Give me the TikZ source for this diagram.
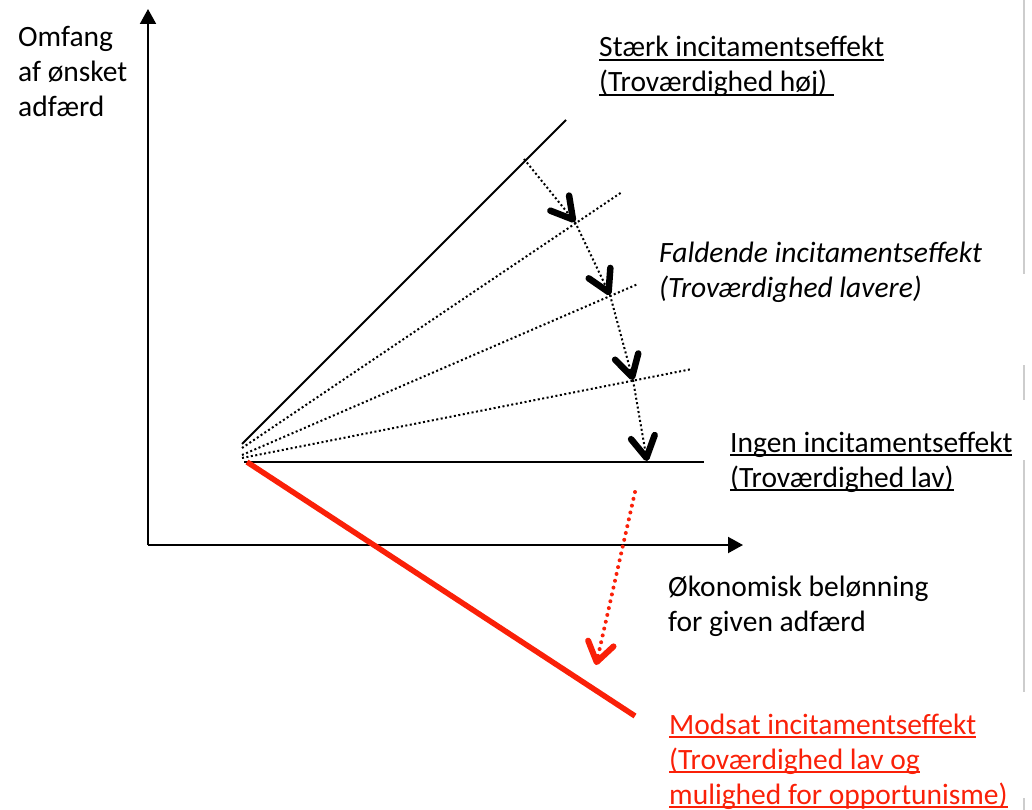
\documentclass[tikz,border=0pt]{standalone}
\usepackage{fontspec}
\setmainfont{Carlito}
\usetikzlibrary{arrows.meta}
\definecolor{oppred}{RGB}{250,32,8}
\definecolor{edgegray}{RGB}{205,205,205}
\newsavebox\ulbox
\newcommand\ulx[1]{\sbox\ulbox{#1}\rlap{\rule[-4.3pt]{\wd\ulbox}{1.9pt}}\usebox\ulbox}
\tikzset{
  lbl/.style={anchor=base west, align=left, inner sep=0pt, font=\fontsize{29.5pt}{35pt}\selectfont},
  axis/.style={line width=2pt, -{Triangle[length=15pt,width=16pt]}},
  solidline/.style={line width=2pt},
  fanline/.style={line width=2pt, dash pattern=on 2pt off 2.5pt},
  steparrow/.style={line width=2pt, dash pattern=on 2pt off 2.5pt,
    -{Straight Barb[length=21pt,width=24pt,line width=6.5pt 0,round]}},
  redline/.style={oppred, line width=5.5pt},
  redarrow/.style={oppred, line width=4pt, line cap=round, dash pattern=on 0pt off 7pt,
    -{Straight Barb[length=19pt,width=26pt,line width=6pt 0,round]}},
  edgebar/.style={edgegray, line width=2.5pt}
}
\begin{document}
\begin{tikzpicture}[x=1pt,y=-1pt]
\useasboundingbox (0,0) rectangle (1032,810);
% axes
\coordinate (O) at (148,545);
\coordinate (ytip) at (148,9);
\coordinate (xtip) at (743,545);
\draw[axis] (O) -- (ytip);
\draw[axis] (O) -- (xtip);
% fan lines
\coordinate (s0) at (242,444);
\coordinate (s1) at (566,120);
\coordinate (a0) at (242,448);
\coordinate (a1) at (622,192);
\coordinate (b0) at (242,455);
\coordinate (b1) at (638,284);
\coordinate (c0) at (242,458);
\coordinate (c1) at (692,369);
\coordinate (h0) at (244,462);
\coordinate (h1) at (704,462);
\coordinate (r0) at (247,462);
\coordinate (r1) at (635,716);
\draw[solidline] (s0) -- (s1);
\draw[fanline] (a0) -- (a1);
\draw[fanline] (b0) -- (b1);
\draw[fanline] (c0) -- (c1);
\draw[solidline] (h0) -- (h1);
\draw[redline] (r0) -- (r1);
% stepping arrows
\coordinate (p0) at (524,159);
\coordinate (p1) at (575,222);
\coordinate (p2) at (610,295);
\coordinate (p3) at (633,380);
\coordinate (p4) at (647,461);
\draw[steparrow] (p0) -- (p1);
\draw[steparrow] (p1) -- (p2);
\draw[steparrow] (p2) -- (p3);
\draw[steparrow] (p3) -- (p4);
\coordinate (q0) at (635,492);
\coordinate (q1) at (596,665);
\draw[redarrow] (q0) -- (q1);
% labels
\node[lbl] (ylab) at (18,117) {Omfang\\af ønsket\\adfærd};
\node[lbl] (strong) at (599,92) {\ulx{Stærk incitamentseffekt}\\\ulx{(Troværdighed høj)\ }};
\node[lbl, font=\fontsize{29.5pt}{35pt}\selectfont\itshape] (falling) at (659,297) {Faldende incitamentseffekt\\(Troværdighed lavere)};
\node[lbl] (none) at (730,487) {\ulx{Ingen incitamentseffekt}\\\ulx{(Troværdighed lav)}};
\node[lbl] (xlab) at (668,631) {Økonomisk belønning\\for given adfærd};
\node[lbl, text=oppred] (opp) at (669,804) {\ulx{Modsat incitamentseffekt}\\\ulx{(Troværdighed lav og}\\\ulx{mulighed for opportunisme)}};
% page edge marks
\draw[edgebar] (1024,0) -- (1024,274);
\draw[edgebar] (1024,365) -- (1024,400);
\draw[edgebar] (1024,460) -- (1024,692);
\draw[edgebar] (1024,798) -- (1024,810);
\end{tikzpicture}
\end{document}
